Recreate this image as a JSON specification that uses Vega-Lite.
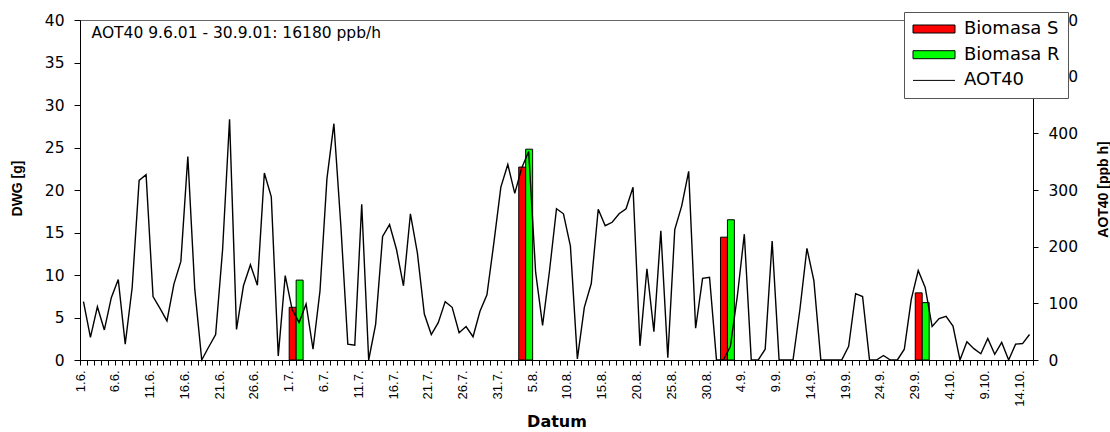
{
  "$schema": "https://vega.github.io/schema/vega-lite/v6.json",
  "width": 953,
  "height": 340,
  "autosize": {"type": "none"},
  "padding": {"left": 80, "top": 20, "right": 77, "bottom": 72},
  "background": "white",
  "config": {
    "view": {"stroke": "#666", "strokeWidth": 1},
    "axis": {"domainColor": "#000", "tickColor": "#000", "labelColor": "#000", "titleColor": "#000", "grid": false, "domainWidth": 1, "tickWidth": 1}
  },
  "datasets": {
    "bio": [
      {"date": "2001-07-01", "series": "Biomasa S", "DWG": 6.2},
      {"date": "2001-07-02", "series": "Biomasa R", "DWG": 9.4},
      {"date": "2001-08-03", "series": "Biomasa S", "DWG": 22.7},
      {"date": "2001-08-04", "series": "Biomasa R", "DWG": 24.8},
      {"date": "2001-09-01", "series": "Biomasa S", "DWG": 14.45},
      {"date": "2001-09-02", "series": "Biomasa R", "DWG": 16.5},
      {"date": "2001-09-29", "series": "Biomasa S", "DWG": 7.9},
      {"date": "2001-09-30", "series": "Biomasa R", "DWG": 6.75}
    ],
    "aot": [
      {"date": "2001-06-01", "AOT40": 103}, {"date": "2001-06-02", "AOT40": 40}, {"date": "2001-06-03", "AOT40": 94}, {"date": "2001-06-04", "AOT40": 53}, {"date": "2001-06-05", "AOT40": 110},
      {"date": "2001-06-06", "AOT40": 142}, {"date": "2001-06-07", "AOT40": 28}, {"date": "2001-06-08", "AOT40": 128}, {"date": "2001-06-09", "AOT40": 317}, {"date": "2001-06-10", "AOT40": 327},
      {"date": "2001-06-11", "AOT40": 112}, {"date": "2001-06-12", "AOT40": 91}, {"date": "2001-06-13", "AOT40": 69}, {"date": "2001-06-14", "AOT40": 134}, {"date": "2001-06-15", "AOT40": 174},
      {"date": "2001-06-16", "AOT40": 359}, {"date": "2001-06-17", "AOT40": 125}, {"date": "2001-06-18", "AOT40": 0}, {"date": "2001-06-19", "AOT40": 23}, {"date": "2001-06-20", "AOT40": 45},
      {"date": "2001-06-21", "AOT40": 195}, {"date": "2001-06-22", "AOT40": 425}, {"date": "2001-06-23", "AOT40": 54}, {"date": "2001-06-24", "AOT40": 131}, {"date": "2001-06-25", "AOT40": 168},
      {"date": "2001-06-26", "AOT40": 132}, {"date": "2001-06-27", "AOT40": 330}, {"date": "2001-06-28", "AOT40": 288}, {"date": "2001-06-29", "AOT40": 7}, {"date": "2001-06-30", "AOT40": 149},
      {"date": "2001-07-01", "AOT40": 89}, {"date": "2001-07-02", "AOT40": 66}, {"date": "2001-07-03", "AOT40": 99}, {"date": "2001-07-04", "AOT40": 19}, {"date": "2001-07-05", "AOT40": 122},
      {"date": "2001-07-06", "AOT40": 320}, {"date": "2001-07-07", "AOT40": 417}, {"date": "2001-07-08", "AOT40": 237}, {"date": "2001-07-09", "AOT40": 28}, {"date": "2001-07-10", "AOT40": 26},
      {"date": "2001-07-11", "AOT40": 275}, {"date": "2001-07-12", "AOT40": 0}, {"date": "2001-07-13", "AOT40": 63}, {"date": "2001-07-14", "AOT40": 218}, {"date": "2001-07-15", "AOT40": 239},
      {"date": "2001-07-16", "AOT40": 195}, {"date": "2001-07-17", "AOT40": 131}, {"date": "2001-07-18", "AOT40": 258}, {"date": "2001-07-19", "AOT40": 189}, {"date": "2001-07-20", "AOT40": 81},
      {"date": "2001-07-21", "AOT40": 45}, {"date": "2001-07-22", "AOT40": 66}, {"date": "2001-07-23", "AOT40": 103}, {"date": "2001-07-24", "AOT40": 93}, {"date": "2001-07-25", "AOT40": 48},
      {"date": "2001-07-26", "AOT40": 59}, {"date": "2001-07-27", "AOT40": 41}, {"date": "2001-07-28", "AOT40": 86}, {"date": "2001-07-29", "AOT40": 115}, {"date": "2001-07-30", "AOT40": 207},
      {"date": "2001-07-31", "AOT40": 305},
      {"date": "2001-08-01", "AOT40": 345}, {"date": "2001-08-02", "AOT40": 294}, {"date": "2001-08-03", "AOT40": 339}, {"date": "2001-08-04", "AOT40": 368}, {"date": "2001-08-05", "AOT40": 155},
      {"date": "2001-08-06", "AOT40": 61}, {"date": "2001-08-07", "AOT40": 158}, {"date": "2001-08-08", "AOT40": 267}, {"date": "2001-08-09", "AOT40": 258}, {"date": "2001-08-10", "AOT40": 201},
      {"date": "2001-08-11", "AOT40": 2}, {"date": "2001-08-12", "AOT40": 93}, {"date": "2001-08-13", "AOT40": 135}, {"date": "2001-08-14", "AOT40": 266}, {"date": "2001-08-15", "AOT40": 237},
      {"date": "2001-08-16", "AOT40": 243}, {"date": "2001-08-17", "AOT40": 258}, {"date": "2001-08-18", "AOT40": 267}, {"date": "2001-08-19", "AOT40": 305}, {"date": "2001-08-20", "AOT40": 25},
      {"date": "2001-08-21", "AOT40": 161}, {"date": "2001-08-22", "AOT40": 50}, {"date": "2001-08-23", "AOT40": 228}, {"date": "2001-08-24", "AOT40": 4}, {"date": "2001-08-25", "AOT40": 230},
      {"date": "2001-08-26", "AOT40": 272}, {"date": "2001-08-27", "AOT40": 333}, {"date": "2001-08-28", "AOT40": 56}, {"date": "2001-08-29", "AOT40": 144}, {"date": "2001-08-30", "AOT40": 146},
      {"date": "2001-08-31", "AOT40": 0},
      {"date": "2001-09-01", "AOT40": 0}, {"date": "2001-09-02", "AOT40": 24}, {"date": "2001-09-03", "AOT40": 113}, {"date": "2001-09-04", "AOT40": 222}, {"date": "2001-09-05", "AOT40": 0},
      {"date": "2001-09-06", "AOT40": 0}, {"date": "2001-09-07", "AOT40": 19}, {"date": "2001-09-08", "AOT40": 210}, {"date": "2001-09-09", "AOT40": 0}, {"date": "2001-09-10", "AOT40": 0},
      {"date": "2001-09-11", "AOT40": 0}, {"date": "2001-09-12", "AOT40": 90}, {"date": "2001-09-13", "AOT40": 197}, {"date": "2001-09-14", "AOT40": 140}, {"date": "2001-09-15", "AOT40": 0},
      {"date": "2001-09-16", "AOT40": 0}, {"date": "2001-09-17", "AOT40": 0}, {"date": "2001-09-18", "AOT40": 0}, {"date": "2001-09-19", "AOT40": 24}, {"date": "2001-09-20", "AOT40": 117},
      {"date": "2001-09-21", "AOT40": 112}, {"date": "2001-09-22", "AOT40": 0}, {"date": "2001-09-23", "AOT40": 0}, {"date": "2001-09-24", "AOT40": 8}, {"date": "2001-09-25", "AOT40": 0},
      {"date": "2001-09-26", "AOT40": 0}, {"date": "2001-09-27", "AOT40": 19}, {"date": "2001-09-28", "AOT40": 107}, {"date": "2001-09-29", "AOT40": 158}, {"date": "2001-09-30", "AOT40": 128},
      {"date": "2001-10-01", "AOT40": 59}, {"date": "2001-10-02", "AOT40": 73}, {"date": "2001-10-03", "AOT40": 77}, {"date": "2001-10-04", "AOT40": 60}, {"date": "2001-10-05", "AOT40": 0},
      {"date": "2001-10-06", "AOT40": 32}, {"date": "2001-10-07", "AOT40": 20}, {"date": "2001-10-08", "AOT40": 11}, {"date": "2001-10-09", "AOT40": 38}, {"date": "2001-10-10", "AOT40": 10},
      {"date": "2001-10-11", "AOT40": 31}, {"date": "2001-10-12", "AOT40": 0}, {"date": "2001-10-13", "AOT40": 28}, {"date": "2001-10-14", "AOT40": 29}, {"date": "2001-10-15", "AOT40": 45}
    ]
  },
  "layer": [
    {
      "layer": [
        {
          "data": {"name": "bio"},
          "mark": {"type": "bar", "stroke": "#000", "strokeWidth": 1, "binSpacing": 0, "timeUnitBandSize": 1},
          "encoding": {
            "x": {
              "field": "date", "timeUnit": "utcyearmonthdate", "type": "temporal", "title": "Datum",
              "scale": {"type": "utc", "domain": [{"year": 2001, "month": 6, "date": 1, "utc": true}, {"year": 2001, "month": 10, "date": 16, "utc": true}]},
              "axis": {
                "tickCount": {"interval": "day", "step": 1},
                "labelExpr": "(round((datum.value - utc(2001,5,1))/86400000) % 5 == 0) ? utcFormat(datum.value, '%-d.%-m.') : ''",
                "labelAngle": -90, "labelFont": "Liberation Sans", "labelFontSize": 13, "labelPadding": 5, "tickSize": 5,
                "labelOverlap": false, "labelFlush": false,
                "titleFont": "DejaVu Sans", "titleFontSize": 16, "titleFontWeight": "bold", "titleY": 61, "titleBaseline": "middle"
              }
            },
            "y": {
              "field": "DWG", "type": "quantitative", "title": "DWG [g]",
              "scale": {"domain": [0, 40], "nice": false},
              "axis": {
                "values": [0, 5, 10, 15, 20, 25, 30, 35, 40], "tickSize": 6, "labelPadding": 10,
                "labelFont": "DejaVu Sans", "labelFontSize": 15.5,
                "titleFont": "Liberation Sans", "titleFontSize": 14, "titleFontWeight": "bold",
                "titleX": -63, "titleY": 168, "titleAngle": 270, "titleAlign": "center", "titleBaseline": "middle"
              }
            },
            "color": {
              "field": "series", "type": "nominal",
              "scale": {"domain": ["Biomasa S", "Biomasa R", "AOT40"], "range": ["#ff0000", "#00ff00", "#000000"]},
              "legend": {
                "orient": "none", "legendX": 824, "legendY": -8, "title": null, "direction": "vertical",
                "fillColor": "#ffffff", "strokeColor": "#555", "padding": 8, "rowPadding": 7.7,
                "labelFont": "DejaVu Sans", "labelFontSize": 18, "labelColor": "#000", "labelOffset": 21, "labelLimit": 300,
                "symbolSize": 256, "symbolOffset": 13, "symbolStrokeWidth": 1, "symbolStrokeColor": "#000",
                "encode": {
                  "symbols": {
                    "update": {
                      "shape": {"signal": "datum.value === 'AOT40' ? 'M-2.625,0H2.625' : 'M-2.625,-0.5H2.625V0.5H-2.625Z'"},
                      "stroke": {"value": "#000"},
                      "strokeWidth": {"value": 1}
                    }
                  }
                }
              }
            }
          }
        },
        {
          "data": {"values": [{}]},
          "mark": {"type": "text", "text": "AOT40 9.6.01 - 30.9.01: 16180 ppb/h", "align": "left", "baseline": "middle", "font": "DejaVu Sans", "fontSize": 15.5, "color": "#000"},
          "encoding": {
            "x": {"datum": {"year": 2001, "month": 6, "date": 2, "hours": 16, "utc": true}, "type": "temporal"},
            "y": {"datum": 38.5, "type": "quantitative"}
          }
        }
      ]
    },
    {
      "data": {"name": "aot"},
      "mark": {"type": "line", "color": "#000", "strokeWidth": 1.4},
      "encoding": {
        "x": {"field": "date", "timeUnit": "utcyearmonthdate", "type": "temporal", "bandPosition": 0.5},
        "y": {
          "field": "AOT40", "type": "quantitative", "title": "AOT40 [ppb h]",
          "scale": {"domain": [0, 600], "nice": false},
          "axis": {
            "orient": "right", "values": [0, 100, 200, 300, 400, 500, 600], "tickSize": 5, "labelPadding": 10,
            "labelFont": "DejaVu Sans", "labelFontSize": 15.5,
            "titleFont": "Liberation Sans", "titleFontSize": 14, "titleFontWeight": "bold",
            "titleX": 70, "titleY": 169, "titleAngle": 270, "titleAlign": "center", "titleBaseline": "middle"
          }
        }
      }
    }
  ],
  "resolve": {"scale": {"y": "independent"}}
}
